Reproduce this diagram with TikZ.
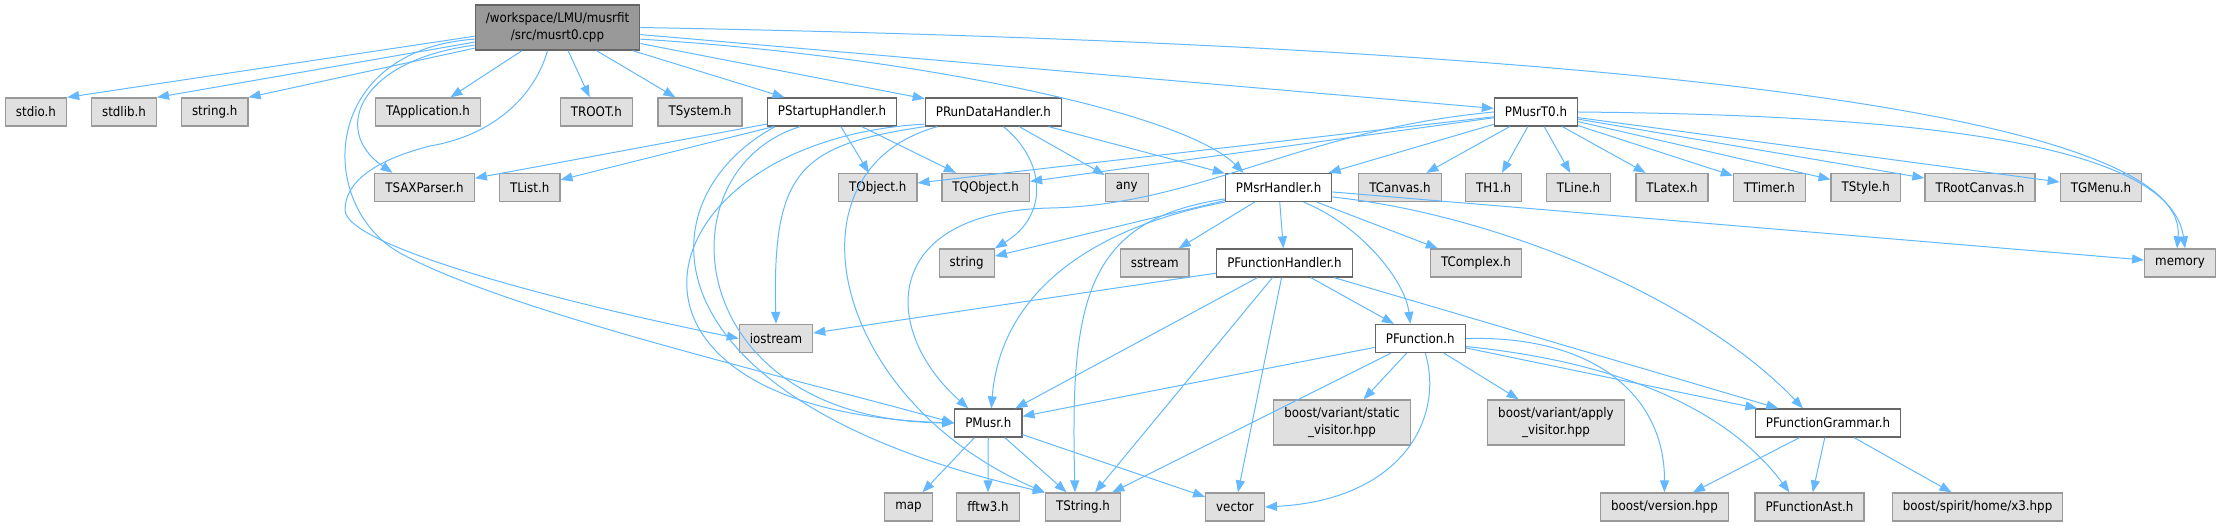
\documentclass[tikz,border=0pt]{standalone}
\usepackage{fontspec}
\setmainfont{DejaVu Sans Condensed}
\usetikzlibrary{arrows.meta}

\definecolor{edgeblue}{HTML}{63B8FF}
\definecolor{extfill}{HTML}{E0E0E0}
\definecolor{extline}{HTML}{999999}
\definecolor{locline}{HTML}{666666}
\definecolor{rootfill}{HTML}{999999}

\tikzset{
  hdr/.style={draw=extline, fill=extfill, line width=1.3pt, minimum height=28pt,
    inner xsep=10.5pt, inner ysep=0pt, align=center,
    font=\fontsize{13.2}{16.7}\selectfont},
  loc/.style={hdr, draw=locline, fill=white},
  src/.style={hdr, draw=locline, fill=rootfill, minimum height=45pt},
  tall/.style={minimum height=45pt},
  inc/.style={draw=edgeblue, line width=1pt, -{Triangle[length=12pt,width=9pt]}}
}

\begin{document}
\begin{tikzpicture}[x=1pt,y=1pt,yscale=-1,xscale=1]
\useasboundingbox (0,0) rectangle (2222,526);

%Source file
\node[src] (musrt0) at (557.5,27.5) {/workspace/LMU/musrfit\\/src/musrt0.cpp};

%Row 1
\node[hdr] (stdio) at (36,112) {stdio.h};
\node[hdr] (stdlib) at (124,112) {stdlib.h};
\node[hdr] (stringh) at (214.7,112) {string.h};
\node[hdr] (TApplication) at (428,112) {TApplication.h};
\node[hdr] (TROOT) at (596.4,112) {TROOT.h};
\node[hdr] (TSystem) at (700,112) {TSystem.h};
\node[loc] (PStartupHandler) at (832,112) {PStartupHandler.h};
\node[loc] (PRunDataHandler) at (993.4,112) {PRunDataHandler.h};
\node[loc] (PMusrT0) at (1536,112) {PMusrT0.h};

%Row 2
\node[hdr] (TSAXParser) at (424.5,187.5) {TSAXParser.h};
\node[hdr] (TList) at (529.7,187.5) {TList.h};
\node[hdr] (TObject) at (877.8,187.5) {TObject.h};
\node[hdr] (TQObject) at (985.7,187.5) {TQObject.h};
\node[hdr] (any) at (1126.8,187.5) {any};
\node[loc] (PMsrHandler) at (1278.6,187.5) {PMsrHandler.h};
\node[hdr] (TCanvas) at (1400,187.5) {TCanvas.h};
\node[hdr] (TH1) at (1493.7,187.5) {TH1.h};
\node[hdr] (TLine) at (1578.5,187.5) {TLine.h};
\node[hdr] (TLatex) at (1672,187.5) {TLatex.h};
\node[hdr] (TTimer) at (1769.4,187.5) {TTimer.h};
\node[hdr] (TStyle) at (1865.8,187.5) {TStyle.h};
\node[hdr] (TRootCanvas) at (1980,187.5) {TRootCanvas.h};
\node[hdr] (TGMenu) at (2101,187.5) {TGMenu.h};

%Row 3
\node[hdr] (string) at (966.7,263) {string};
\node[hdr] (sstream) at (1154.7,263) {sstream};
\node[loc] (PFunctionHandler) at (1284.5,263) {PFunctionHandler.h};
\node[hdr] (TComplex) at (1476,263) {TComplex.h};
\node[hdr] (memory) at (2180,263) {memory};

%Row 4
\node[hdr] (iostream) at (776,338.5) {iostream};
\node[loc] (PFunction) at (1420.3,338.5) {PFunction.h};

%Row 5
\node[loc] (PMusr) at (988.3,423) {PMusr.h};
\node[hdr,tall] (staticvisitor) at (1342,422.5) {boost/variant/static\\\_visitor.hpp};
\node[hdr,tall] (applyvisitor) at (1556,422.5) {boost/variant/apply\\\_visitor.hpp};
\node[loc] (PFunctionGrammar) at (1828,423) {PFunctionGrammar.h};

%Row 6
\node[hdr] (map) at (908.5,507) {map};
\node[hdr] (fftw3) at (988,507) {fftw3.h};
\node[hdr] (TString) at (1083,507) {TString.h};
\node[hdr] (vector) at (1235,507) {vector};
\node[hdr] (boostversion) at (1664.4,507) {boost/version.hpp};
\node[hdr] (PFunctionAst) at (1809.5,507) {PFunctionAst.h};
\node[hdr] (spiritx3) at (1977.6,507) {boost/spirit/home/x3.hpp};

%musrt0.cpp includes
\draw[inc] (musrt0.186) -- (stdio.north east);
\draw[inc] (musrt0.190) -- (stdlib.north east);
\draw[inc] (musrt0.194) -- (stringh.north east);
\foreach \t in {TApplication,TROOT,TSystem,PStartupHandler,PRunDataHandler,PMusrT0}
  \draw[inc] (musrt0) -- (\t);
\draw[inc] (musrt0.-8) .. controls (900,55) and (1180,110) .. ([xshift=-35pt]PMsrHandler.north);
\draw[inc] (musrt0.east) .. controls (1600,45) and (2190,110) .. ([xshift=-3pt]memory.north);
\draw[inc] (musrt0.192) .. controls (360,60) and (330,130) .. ([xshift=-32pt]TSAXParser.north);
\draw[inc] ([xshift=-10pt]musrt0.south) .. controls (535,95) and (495,135) .. (430,146)
  .. controls (375,160) and (345,182) .. (345,210)
  .. controls (345,245) and (550,300) .. (iostream.west);
\draw[inc] (musrt0.188) .. controls (320,50) and (315,205) .. (400,253)
  .. controls (510,313) and (800,380) .. (PMusr.west);

%PStartupHandler.h
\foreach \t in {TSAXParser,TList,TObject,TQObject}
  \draw[inc] (PStartupHandler) -- (\t);
\draw[inc] ([xshift=-32pt]PStartupHandler.south) .. controls (660,170) and (680,420) .. (PMusr.west);
\draw[inc] ([xshift=-57pt]PStartupHandler.south) .. controls (640,200) and (640,400) .. (TString.north west);

%PRunDataHandler.h
\draw[inc] (PRunDataHandler.south west) .. controls (800,145) and (772,170) .. (iostream.north);
\draw[inc] (PRunDataHandler.190) .. controls (640,140) and (570,410) .. (PMusr.west);
\draw[inc] ([xshift=-56pt]PRunDataHandler.south) .. controls (780,170) and (830,400) .. (TString.north west);
\draw[inc] ([xshift=10pt]PRunDataHandler.south) .. controls (1045,160) and (1050,215) .. (string.north east);
\draw[inc] (PRunDataHandler) -- (any);
\draw[inc] (PRunDataHandler) -- (PMsrHandler);

%PMusrT0.h
\foreach \t in {TObject,TQObject,PMsrHandler,TCanvas,TH1,TLine,TLatex,TTimer,TStyle,TRootCanvas,TGMenu}
  \draw[inc] (PMusrT0) -- (\t);
\draw[inc] (PMusrT0.west) .. controls (1300,130) and (1200,205) .. (1050,208)
  .. controls (880,212) and (880,330) .. ([xshift=-20pt]PMusr.north);
\draw[inc] (PMusrT0.east) .. controls (1900,115) and (2170,140) .. ([xshift=5pt]memory.north);

%PMsrHandler.h
\foreach \t in {string,sstream,PFunctionHandler,TComplex,memory}
  \draw[inc] (PMsrHandler) -- (\t);
\draw[inc] ([xshift=25pt]PMsrHandler.south) .. controls (1360,225) and (1405,280) .. ([xshift=-10pt]PFunction.north);
\draw[inc] (PMsrHandler.-10) .. controls (1500,215) and (1700,300) .. ([xshift=-25pt]PFunctionGrammar.north);
\draw[inc] (PMsrHandler.south west) .. controls (1080,230) and (1000,300) .. ([xshift=3pt]PMusr.north);
\draw[inc] (PMsrHandler.192) .. controls (1085,220) and (1070,300) .. ([xshift=-8pt]TString.north);

%PFunctionHandler.h
\foreach \t in {iostream,PMusr,TString,vector,PFunction,PFunctionGrammar}
  \draw[inc] (PFunctionHandler) -- (\t);

%PFunction.h
\foreach \t in {PMusr,TString,staticvisitor,applyvisitor,PFunctionGrammar}
  \draw[inc] (PFunction) -- (\t);
\draw[inc] ([xshift=5pt]PFunction.south) .. controls (1445,420) and (1400,500) .. (vector.east);
\draw[inc] (PFunction.east) .. controls (1600,335) and (1665,400) .. (boostversion.north);
\draw[inc] (PFunction.-10) .. controls (1600,360) and (1720,400) .. ([xshift=-20pt]PFunctionAst.north);

%PFunctionGrammar.h
\foreach \t in {boostversion,PFunctionAst,spiritx3}
  \draw[inc] (PFunctionGrammar) -- (\t);

%PMusr.h
\foreach \t in {map,fftw3,TString,vector}
  \draw[inc] (PMusr) -- (\t);

\end{tikzpicture}
\end{document}
